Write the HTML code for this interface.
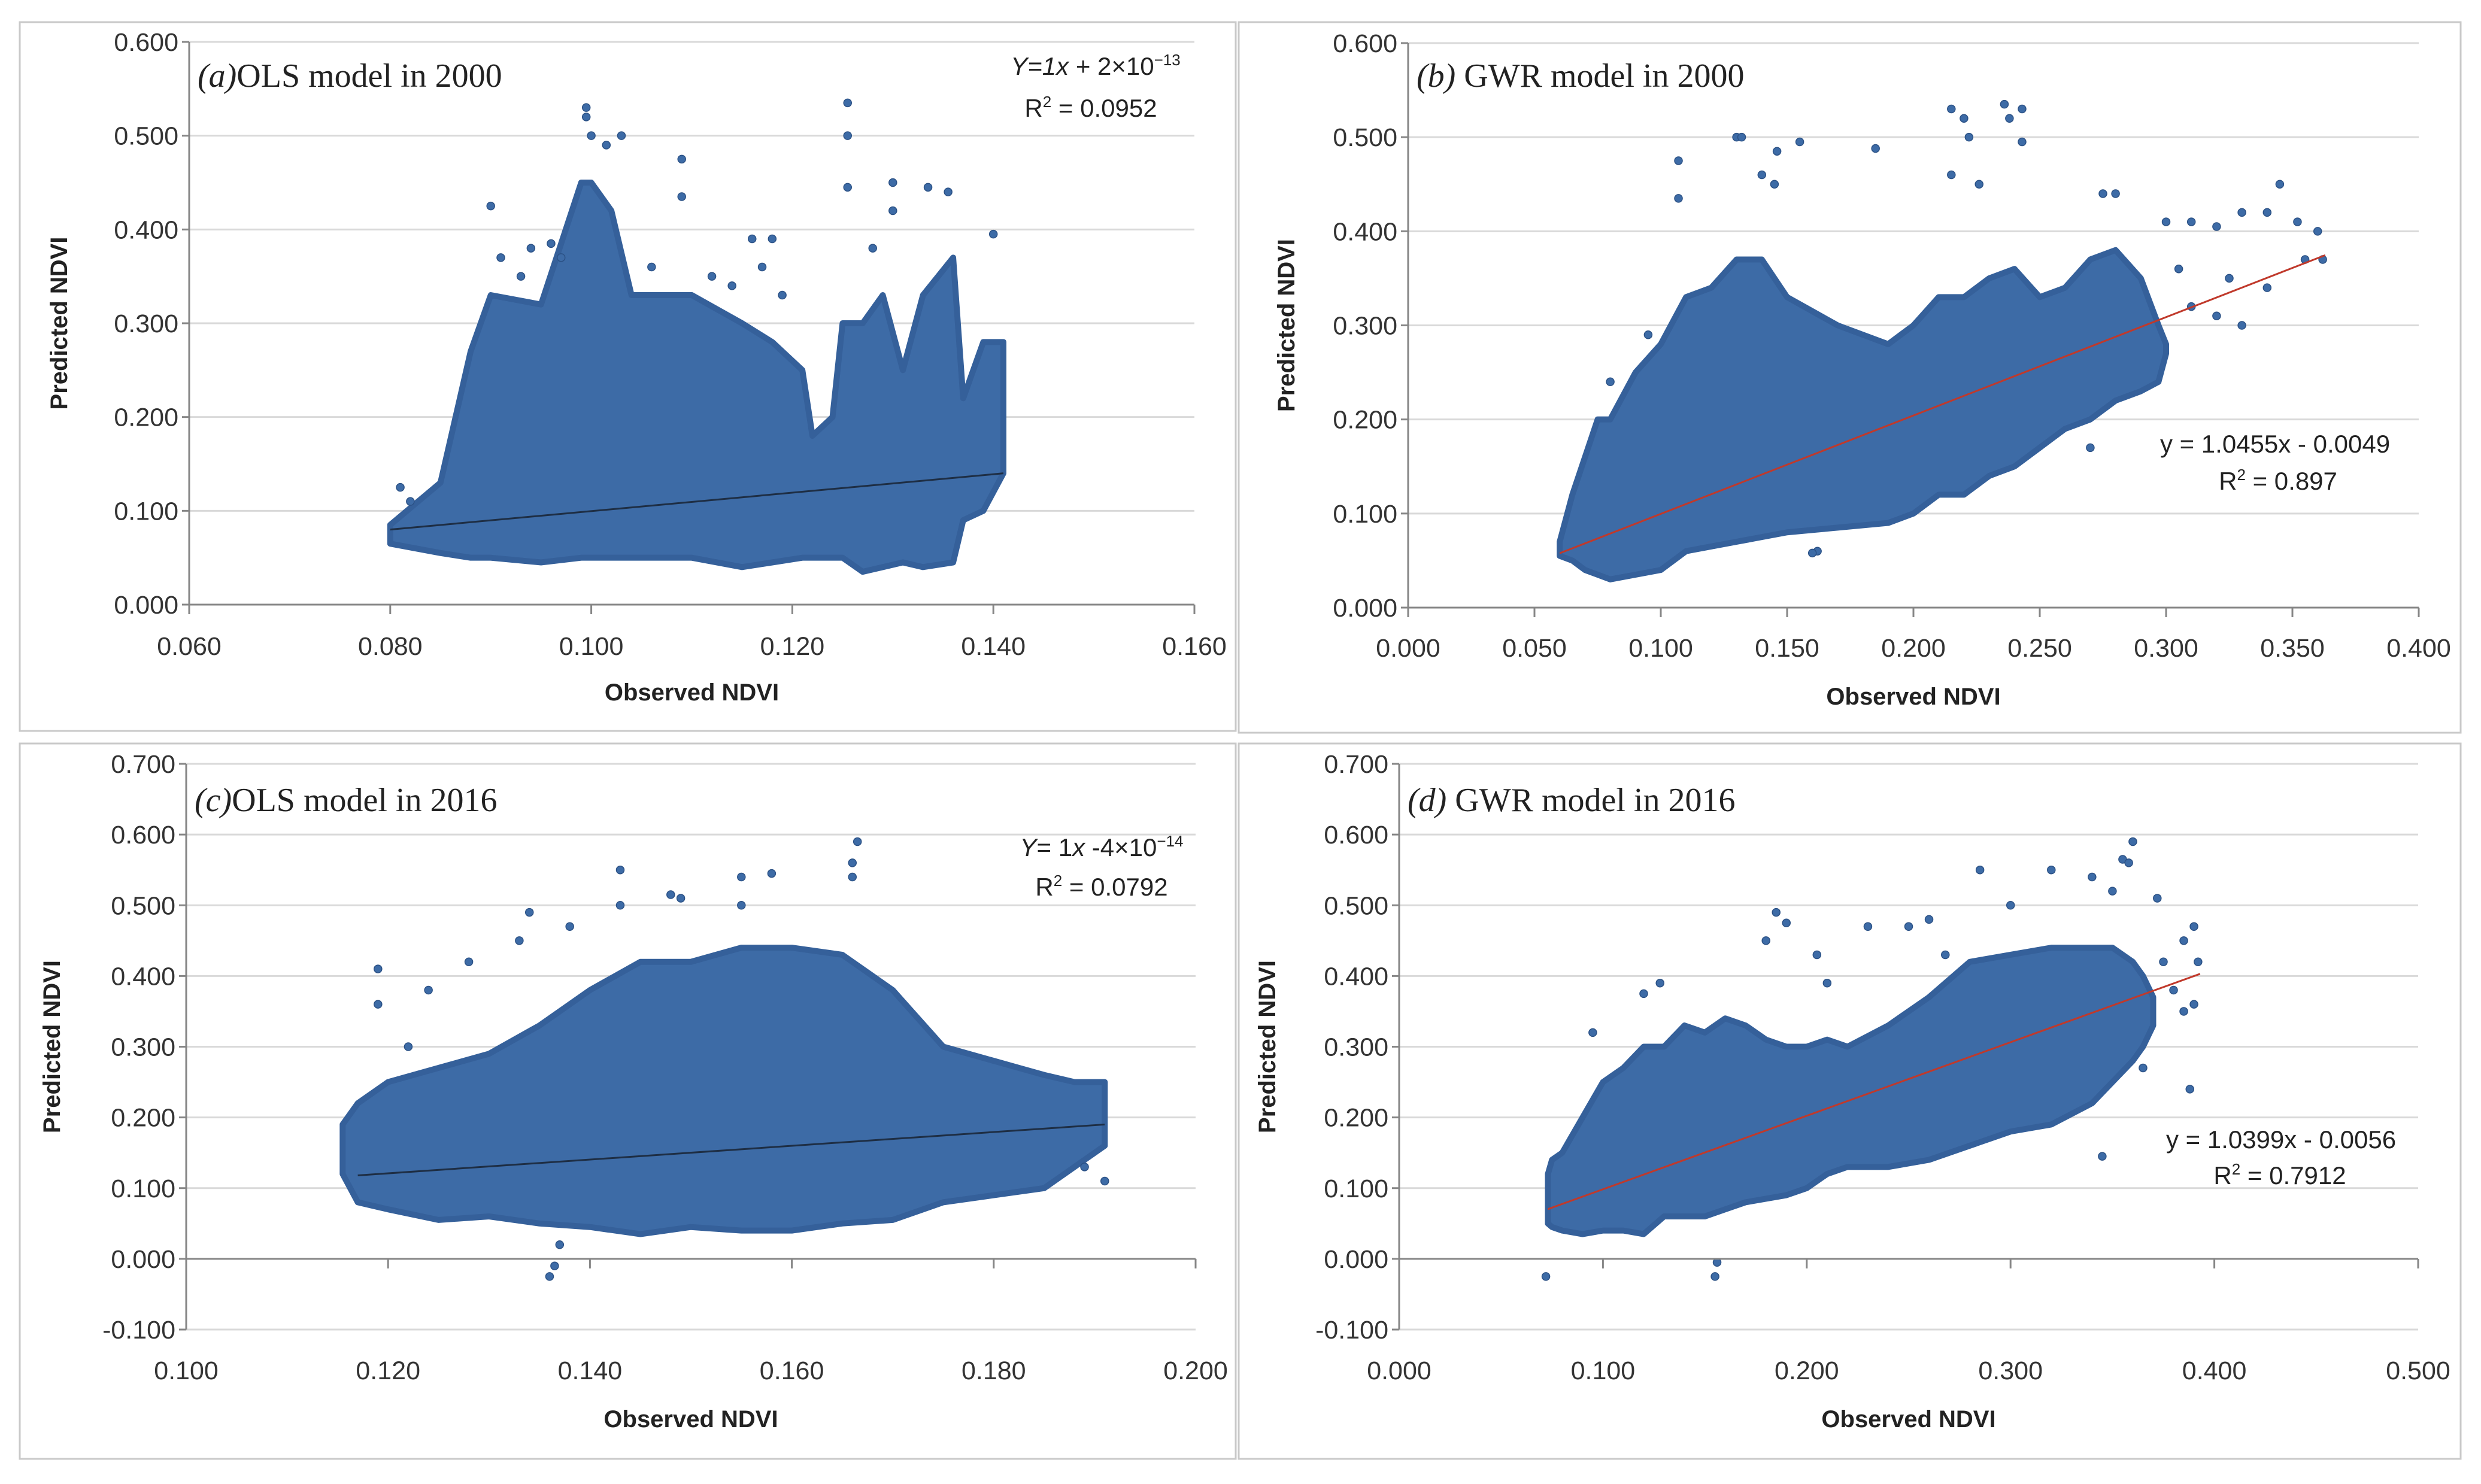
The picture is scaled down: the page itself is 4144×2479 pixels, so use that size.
<!DOCTYPE html>
<html><head><meta charset="utf-8"><style>
html,body{margin:0;padding:0;background:#fff;}
svg{display:block;}
</style></head><body>
<svg id="fig" width="4144" height="2479" viewBox="0 0 4144 2479" xmlns="http://www.w3.org/2000/svg" font-family="Liberation Sans, sans-serif"></svg>
<script>
// ---- Panel (a) OLS 2000 ----
const aX    = [0.080,0.085,0.088,0.090,0.095,0.099,0.100,0.102,0.104,0.108,0.110,0.115,0.118,0.121,0.122,0.124,0.125,0.127,0.129,0.131,0.133,0.136,0.137,0.139,0.141];
const aHigh = [0.085,0.130,0.270,0.330,0.320,0.450,0.450,0.420,0.330,0.330,0.330,0.300,0.280,0.250,0.180,0.200,0.300,0.300,0.330,0.250,0.330,0.370,0.220,0.280,0.280];
const aLow  = [0.065,0.055,0.050,0.050,0.045,0.050,0.050,0.050,0.050,0.050,0.050,0.040,0.045,0.050,0.050,0.050,0.050,0.035,0.040,0.045,0.040,0.045,0.090,0.100,0.140];
const aOutX = [0.0995,0.0995,0.100,0.1015,0.103,0.109,0.109,0.1255,0.1255,0.1255,0.130,0.1335,0.1355,0.090,0.140,0.094,0.096,0.116,0.118,0.081,0.082,0.091,0.093,0.097,0.106,0.112,0.114,0.117,0.119,0.128,0.130];
const aOutY = [0.530,0.520,0.500,0.490,0.500,0.475,0.435,0.535,0.500,0.445,0.450,0.445,0.440,0.425,0.395,0.380,0.385,0.390,0.390,0.125,0.110,0.370,0.350,0.370,0.360,0.350,0.340,0.360,0.330,0.380,0.420];
const aTrend = [[0.080,0.080],[0.141,0.140]];
// ---- Panel (b) GWR 2000 ----
const bX    = [0.060,0.065,0.070,0.075,0.080,0.090,0.100,0.110,0.120,0.130,0.140,0.150,0.170,0.190,0.200,0.210,0.220,0.230,0.240,0.250,0.260,0.270,0.280,0.290,0.297,0.300];
const bHigh = [0.070,0.120,0.160,0.200,0.200,0.250,0.280,0.330,0.340,0.370,0.370,0.330,0.300,0.280,0.300,0.330,0.330,0.350,0.360,0.330,0.340,0.370,0.380,0.350,0.300,0.280];
const bLow  = [0.055,0.050,0.040,0.035,0.030,0.035,0.040,0.060,0.065,0.070,0.075,0.080,0.085,0.090,0.100,0.120,0.120,0.140,0.150,0.170,0.190,0.200,0.220,0.230,0.240,0.270];
const bOutX = [0.130,0.132,0.146,0.155,0.107,0.107,0.185,0.215,0.220,0.222,0.236,0.238,0.243,0.243,0.140,0.145,0.215,0.226,0.275,0.280,0.310,0.320,0.330,0.340,0.345,0.352,0.360,0.355,0.362,0.340,0.330,0.320,0.310,0.325,0.300,0.305,0.162,0.160,0.270,0.095,0.080];
const bOutY = [0.500,0.500,0.485,0.495,0.475,0.435,0.488,0.530,0.520,0.500,0.535,0.520,0.530,0.495,0.460,0.450,0.460,0.450,0.440,0.440,0.410,0.405,0.420,0.420,0.450,0.410,0.400,0.370,0.370,0.340,0.300,0.310,0.320,0.350,0.410,0.360,0.060,0.058,0.170,0.290,0.240];
const bTrend = [[0.060,0.0578],[0.363,0.3746]];
// ---- Panel (c) OLS 2016 ----
const cX    = [0.1155,0.117,0.120,0.125,0.130,0.135,0.140,0.145,0.150,0.155,0.160,0.165,0.170,0.175,0.180,0.185,0.188,0.191];
const cHigh = [0.190,0.220,0.250,0.270,0.290,0.330,0.380,0.420,0.420,0.440,0.440,0.430,0.380,0.300,0.280,0.260,0.250,0.250];
const cLow  = [0.120,0.080,0.070,0.055,0.060,0.050,0.045,0.035,0.045,0.040,0.040,0.050,0.055,0.080,0.090,0.100,0.130,0.160];
const cOutX = [0.1665,0.166,0.166,0.143,0.158,0.155,0.134,0.148,0.149,0.143,0.155,0.119,0.128,0.124,0.119,0.136,0.1365,0.137,0.191,0.189,0.133,0.122,0.138];
const cOutY = [0.590,0.560,0.540,0.550,0.545,0.540,0.490,0.515,0.510,0.500,0.500,0.410,0.420,0.380,0.360,-0.025,-0.010,0.020,0.110,0.130,0.450,0.300,0.470];
const cTrend = [[0.117,0.118],[0.191,0.190]];
// ---- Panel (d) GWR 2016 ----
const dX    = [0.073,0.075,0.080,0.090,0.100,0.110,0.120,0.130,0.140,0.150,0.160,0.170,0.180,0.190,0.200,0.210,0.220,0.240,0.260,0.280,0.300,0.320,0.340,0.350,0.360,0.365,0.370];
const dHigh = [0.120,0.140,0.150,0.200,0.250,0.270,0.300,0.300,0.330,0.320,0.340,0.330,0.310,0.300,0.300,0.310,0.300,0.330,0.370,0.420,0.430,0.440,0.440,0.440,0.420,0.400,0.370];
const dLow  = [0.050,0.045,0.040,0.035,0.040,0.040,0.035,0.060,0.060,0.060,0.070,0.080,0.085,0.090,0.100,0.120,0.130,0.130,0.140,0.160,0.180,0.190,0.220,0.250,0.280,0.300,0.330];
const dOutX = [0.072,0.155,0.156,0.185,0.190,0.180,0.285,0.360,0.355,0.358,0.320,0.340,0.350,0.372,0.390,0.385,0.392,0.380,0.390,0.385,0.388,0.345,0.365,0.375,0.128,0.120,0.095,0.250,0.260,0.300,0.205,0.210,0.230,0.268];
const dOutY = [-0.025,-0.025,-0.005,0.490,0.475,0.450,0.550,0.590,0.565,0.560,0.550,0.540,0.520,0.510,0.470,0.450,0.420,0.380,0.360,0.350,0.240,0.145,0.270,0.420,0.390,0.375,0.320,0.470,0.480,0.500,0.430,0.390,0.470,0.430];
const dTrend = [[0.073,0.0703],[0.393,0.4030]];

const aXTicks=["0.060","0.080","0.100","0.120","0.140","0.160"];
const aYTicks=["0.000","0.100","0.200","0.300","0.400","0.500","0.600"];
const bXTicks=["0.000","0.050","0.100","0.150","0.200","0.250","0.300","0.350","0.400"];
const cXTicks=["0.100","0.120","0.140","0.160","0.180","0.200"];
const cdYTicks=["-0.100","0.000","0.100","0.200","0.300","0.400","0.500","0.600","0.700"];
const dXTicks=["0.000","0.100","0.200","0.300","0.400","0.500"];

const NS="http://www.w3.org/2000/svg";
const svg=document.getElementById('fig');
function mk(tag,attrs,parent){const e=document.createElementNS(NS,tag);for(const k in attrs)e.setAttribute(k,attrs[k]);(parent||svg).appendChild(e);return e;}

function panel(p){
  const g=mk('g',{});
  
  
  const border=mk('rect',{x:p.box[0],y:p.box[1],width:p.box[2],height:p.box[3],fill:'#fff',stroke:'#c9c9c9','stroke-width':3},g);
  
  
  const xmin=parseFloat(p.xt[0]),xmax=parseFloat(p.xt[p.xt.length-1]);
  const ymin=parseFloat(p.yt[0]),ymax=parseFloat(p.yt[p.yt.length-1]);
  const sx=v=>p.x0+(v-xmin)/(xmax-xmin)*(p.x1-p.x0);
  const sy=v=>p.yb+(v-ymin)/(ymax-ymin)*(p.yt0-p.yb);
  p.yt.forEach(t=>{const v=parseFloat(t);const y=sy(v);
    const gl=mk('line',{x1:p.x0,x2:p.x1,y1:y,y2:y,stroke:'#d9d9d9','stroke-width':3},g);
    
    
    mk('line',{x1:p.x0-12,x2:p.x0,y1:y,y2:y,stroke:'#868686','stroke-width':3},g);
    const tx=mk('text',{x:p.x0-18,y:y+15,'text-anchor':'end','font-size':43,fill:'#333'},g);
    tx.textContent=t;
    
    
  });
  let pts=p.X.map((x,i)=>sx(x)+','+sy(p.H[i]));
  for(let i=p.X.length-1;i>=0;i--)pts.push(sx(p.X[i])+','+sy(p.L[i]));
  const cloud=mk('polygon',{points:pts.join(' '),fill:'#3d6ba6',stroke:'#35609a','stroke-width':10,'stroke-linejoin':'round'},g);
  
  
  p.OX.forEach((x,i)=>{
    const c=mk('circle',{cx:sx(x),cy:sy(p.OY[i]),r:6.5,fill:'#3d6ba6',stroke:'#2b5185','stroke-width':1.5},g);
    
    
  });
  const tl=mk('line',{x1:sx(p.T[0][0]),y1:sy(p.T[0][1]),x2:sx(p.T[1][0]),y2:sy(p.T[1][1]),stroke:p.tc,'stroke-width':3},g);
  
  
  const y0=sy(0);
  const ya=mk('line',{x1:p.x0,x2:p.x0,y1:p.yt0,y2:p.yb,stroke:'#868686','stroke-width':3},g);
  
  
  const xa=mk('line',{x1:p.x0,x2:p.x1,y1:y0,y2:y0,stroke:'#868686','stroke-width':3},g);
  
  
  p.xt.forEach(t=>{const x=sx(parseFloat(t));
    mk('line',{x1:x,x2:x,y1:y0,y2:y0+16,stroke:'#868686','stroke-width':3},g);
    const tx=mk('text',{x:x,y:p.xly,'text-anchor':'middle','font-size':43,fill:'#333'},g);
    tx.textContent=t;
    
    
  });
  const xt=mk('text',{x:(p.x0+p.x1)/2,y:p.xty,'text-anchor':'middle','font-size':40,'font-weight':'bold',fill:'#222'},g);
  xt.textContent='Observed NDVI';
  
  
  const yc=(p.yt0+p.yb)/2;
  const yt=mk('text',{x:p.ytx,y:yc,'text-anchor':'middle','font-size':40,'font-weight':'bold',fill:'#222',transform:`rotate(-90 ${p.ytx} ${yc})`},g);
  yt.textContent='Predicted NDVI';
  
  
  const lab=mk('text',{x:p.x0+14,y:p.labY,'font-size':56,fill:'#222',style:'font-family:"Liberation Serif",serif'},g);
  lab.innerHTML='<tspan font-style="italic">'+p.lab[0]+'</tspan>'+p.lab[1];
  
  
  p.eq.forEach((e,i)=>{
    const t=mk('text',{x:e[1],y:e[2],'text-anchor':'middle','font-size':42,fill:'#222'},g);
    t.innerHTML=e[0];
    
    
  });
}
const sup=s=>'<tspan font-size="26" dy="-16">'+s+'</tspan>';
panel({name:'panel-a',box:[33,37,2031,1184],x0:316,x1:1995,yb:1010,yt0:70,xt:aXTicks,yt:aYTicks,X:aX,H:aHigh,L:aLow,OX:aOutX,OY:aOutY,T:aTrend,tc:'#1e2e44',xly:1094,xty:1170,ytx:112,labY:145,lab:['(a)','OLS model in 2000'],
  eq:[['<tspan font-style="italic">Y=1x</tspan> + 2×10'+sup('−13'),1830,125],['R'+sup('2')+'<tspan dy="16"> = 0.0952</tspan>',1822,195]]});
panel({name:'panel-b',box:[2069,37,2041,1187],x0:2352,x1:4040,yb:1015,yt0:72,xt:bXTicks,yt:aYTicks,X:bX,H:bHigh,L:bLow,OX:bOutX,OY:bOutY,T:bTrend,tc:'#c0392b',xly:1097,xty:1177,ytx:2162,labY:145,lab:['(b) ','GWR model in 2000'],
  eq:[['y = 1.0455x - 0.0049',3800,756],['R'+sup('2')+'<tspan dy="16"> = 0.897</tspan>',3805,818]]});
panel({name:'panel-c',box:[33,1242,2031,1195],x0:311,x1:1997,yb:2221,yt0:1276,xt:cXTicks,yt:cdYTicks,X:cX,H:cHigh,L:cLow,OX:cOutX,OY:cOutY,T:cTrend,tc:'#1e2e44',xly:2304,xty:2384,ytx:100,labY:1355,lab:['(c)','OLS model in 2016'],
  eq:[['<tspan font-style="italic">Y</tspan>= 1<tspan font-style="italic">x</tspan> -4×10'+sup('−14'),1840,1430],['R'+sup('2')+'<tspan dy="16"> = 0.0792</tspan>',1840,1496]]});
panel({name:'panel-d',box:[2069,1242,2041,1195],x0:2337,x1:4039,yb:2221,yt0:1276,xt:dXTicks,yt:cdYTicks,X:dX,H:dHigh,L:dLow,OX:dOutX,OY:dOutY,T:dTrend,tc:'#c0392b',xly:2304,xty:2384,ytx:2130,labY:1355,lab:['(d) ','GWR model in 2016'],
  eq:[['y = 1.0399x - 0.0056',3810,1918],['R'+sup('2')+'<tspan dy="16"> = 0.7912</tspan>',3808,1978]]});
</script>
</body></html>
